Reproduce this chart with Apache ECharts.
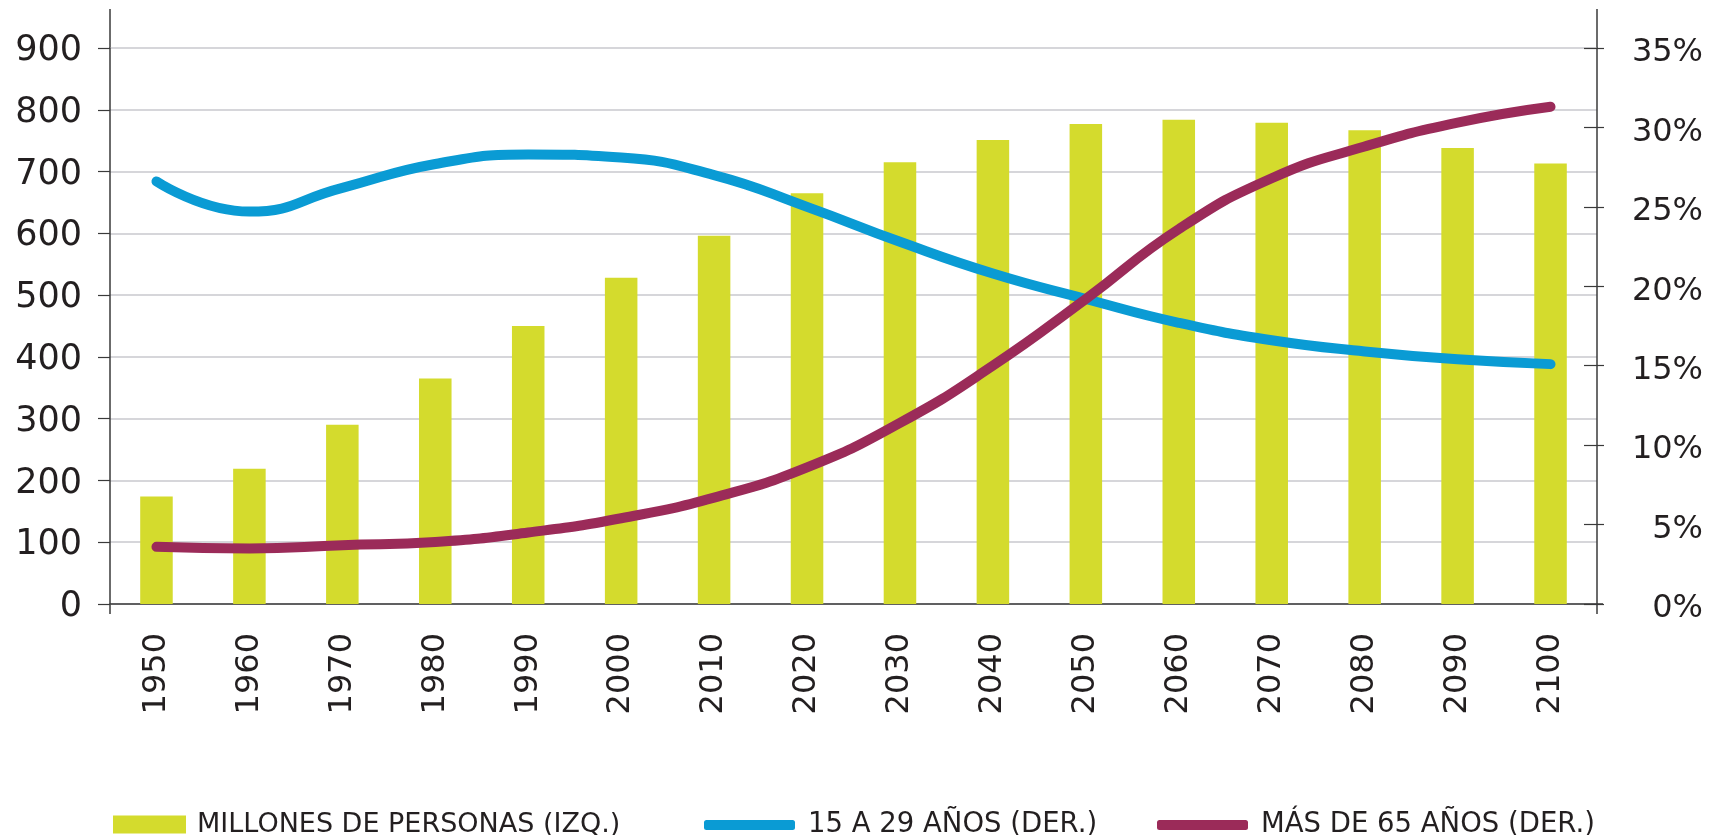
<!DOCTYPE html>
<html>
<head>
<meta charset="utf-8">
<script src="https://cdn.jsdelivr.net/npm/echarts@6/dist/echarts.min.js"></script>
<style>
html,body{margin:0;padding:0;background:#fff;}
#c{width:1721px;height:835px;}
</style>
</head>
<body>
<div id="c"></div>
<script>
// ---- data ----
var years = ['1950','1960','1970','1980','1990','2000','2010','2020','2030','2040','2050','2060','2070','2080','2090','2100'];
var poblacion = [174, 219, 290, 365, 450, 528, 596, 665, 715, 751, 777, 784, 779, 767, 738, 713];
var jovenes15a29 = [26.6, 24.7, 26.2, 27.7, 28.3, 28.1, 27.0, 25.0, 22.8, 20.8, 19.2, 17.7, 16.6, 15.9, 15.4, 15.1];
var mayores65 = [3.6, 3.5, 3.7, 3.9, 4.5, 5.4, 6.7, 8.6, 11.4, 15.0, 19.2, 23.6, 26.8, 28.8, 30.3, 31.3];
var leftTicks = {min: 0, max: 900, interval: 100};
var rightTicks = {min: 0, max: 35, interval: 5};
var names = ['MILLONES DE PERSONAS (IZQ.)', '15 A 29 AÑOS (DER.)', 'MÁS DE 65 AÑOS (DER.)'];

// ---- style ----
var FONT = 'DejaVu Sans';
var TXT = '#231f20';
var AX = '#3a3a3a';
var G = {left: 110, right: 124, top: 48, bottom: 231};
var W = 1721, H = 835;
var gx0 = G.left, gx1 = W - G.right, gy0 = G.top, gy1 = H - G.bottom;

var chart = echarts.init(document.getElementById('c'), null, {renderer: 'canvas'});
var option = {
  animation: false,
  backgroundColor: '#ffffff',
  grid: {left: G.left, right: G.right, top: G.top, bottom: G.bottom, containLabel: false},
  xAxis: {
    type: 'category',
    data: years,
    axisLine: {show: true, lineStyle: {color: AX, width: 1.5}},
    axisTick: {show: false},
    axisLabel: {rotate: 90, margin: 29, fontFamily: FONT, fontSize: 32, color: TXT}
  },
  yAxis: [
    {
      type: 'value', position: 'left',
      min: leftTicks.min, max: leftTicks.max, interval: leftTicks.interval,
      axisLine: {show: true, lineStyle: {color: AX, width: 1.5}},
      axisTick: {show: true, length: 12, lineStyle: {color: AX, width: 1.2}},
      axisLabel: {margin: 28, fontFamily: FONT, fontSize: 35, color: TXT, verticalAlign: 'top', lineHeight: 6},
      splitLine: {show: true, lineStyle: {color: '#c9c9ce', width: 1.5}}
    },
    {
      type: 'value', position: 'right',
      min: rightTicks.min, max: rightTicks.max, interval: rightTicks.interval,
      axisLine: {show: true, lineStyle: {color: AX, width: 1.5}},
      axisTick: {show: true, length: 7, lineStyle: {color: AX, width: 1.2}},
      axisLabel: {margin: 106, align: 'right', fontFamily: FONT, fontSize: 32, color: TXT, formatter: '{value}%',
                  verticalAlign: 'top', lineHeight: 10},
      splitLine: {show: false}
    },
    {
      type: 'value', position: 'right',
      min: rightTicks.min, max: rightTicks.max, interval: rightTicks.interval,
      axisLine: {show: false},
      axisTick: {show: true, inside: true, length: 13, lineStyle: {color: AX, width: 1.2}},
      axisLabel: {show: false},
      splitLine: {show: false}
    }
  ],
  legend: [
    {data: [names[0]], left: 108, top: 806, itemWidth: 73, itemHeight: 18, icon: 'rect',
     textStyle: {fontFamily: FONT, fontSize: 27, color: TXT, padding: [0, 0, 0, 6]}},
    {data: [names[1]], left: 699, top: 806, itemWidth: 91, itemHeight: 10, icon: 'roundRect',
     textStyle: {fontFamily: FONT, fontSize: 27.5, color: TXT, padding: [0, 0, 0, 8]}},
    {data: [names[2]], left: 1152, top: 806, itemWidth: 91, itemHeight: 10, icon: 'roundRect',
     textStyle: {fontFamily: FONT, fontSize: 27.5, color: TXT, padding: [0, 0, 0, 8]}}
  ],
  series: [
    {name: names[0], type: 'bar', yAxisIndex: 0, data: poblacion, barWidth: '35%',
     itemStyle: {color: '#d4db2d'}},
    {name: names[1], type: 'line', yAxisIndex: 1, data: jovenes15a29, smooth: 0.5,
     showSymbol: false, symbol: 'none',
     lineStyle: {color: '#0a9bd4', width: 10, cap: 'round', join: 'round'},
     itemStyle: {color: '#0a9bd4'}},
    {name: names[2], type: 'line', yAxisIndex: 1, data: mayores65, smooth: 0.5,
     showSymbol: false, symbol: 'none',
     lineStyle: {color: '#9b2b59', width: 10, cap: 'round', join: 'round'},
     itemStyle: {color: '#9b2b59'}}
  ],
  graphic: [
    {type: 'line', shape: {x1: gx0, y1: 9, x2: gx0, y2: gy0}, style: {stroke: AX, lineWidth: 1.5}, silent: true},
    {type: 'line', shape: {x1: gx1, y1: 9, x2: gx1, y2: gy0}, style: {stroke: AX, lineWidth: 1.5}, silent: true},
    {type: 'line', shape: {x1: gx0, y1: gy1, x2: gx0, y2: gy1 + 10}, style: {stroke: AX, lineWidth: 1.5}, silent: true},
    {type: 'line', shape: {x1: gx1, y1: gy1, x2: gx1, y2: gy1 + 10}, style: {stroke: AX, lineWidth: 1.5}, silent: true},
    {type: 'line', shape: {x1: gx1, y1: gy1, x2: gx1 + 6, y2: gy1}, style: {stroke: AX, lineWidth: 1.5}, silent: true}
  ]
};
chart.setOption(option);
</script>
</body>
</html>
